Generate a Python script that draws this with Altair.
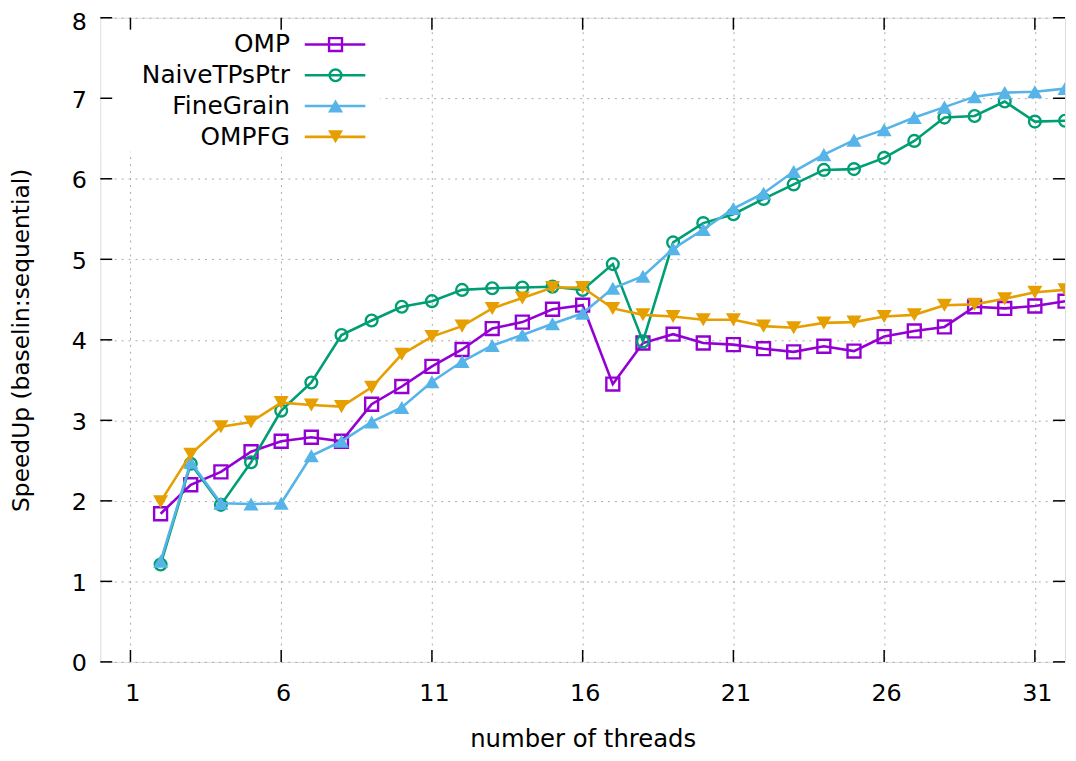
import altair as alt
import pandas as pd

threads = list(range(2, 33))
series_names = ["OMP", "NaiveTPsPtr", "FineGrain", "OMPFG"]
omp = [1.84, 2.20, 2.36, 2.61, 2.74, 2.79, 2.74, 3.20, 3.42, 3.67, 3.88, 4.14, 4.22, 4.38, 4.43,
       3.45, 3.96, 4.07, 3.96, 3.94, 3.89, 3.85, 3.92, 3.86, 4.04, 4.11, 4.16, 4.41, 4.39, 4.42, 4.48]
naive = [1.21, 2.46, 1.95, 2.48, 3.12, 3.47, 4.06, 4.24, 4.41, 4.48, 4.62, 4.64, 4.65, 4.66, 4.62,
         4.94, 3.98, 5.21, 5.45, 5.56, 5.75, 5.93, 6.11, 6.12, 6.26, 6.47, 6.76, 6.78, 6.96, 6.71, 6.72]
finegrain = [1.25, 2.48, 1.97, 1.96, 1.97, 2.56, 2.74, 2.98, 3.16, 3.48, 3.73, 3.93, 4.06, 4.20, 4.33,
             4.64, 4.79, 5.13, 5.37, 5.63, 5.82, 6.09, 6.30, 6.48, 6.61, 6.76, 6.89, 7.02, 7.07, 7.08, 7.12]
ompfg = [1.99, 2.58, 2.92, 2.98, 3.22, 3.19, 3.17, 3.41, 3.82, 4.04, 4.17, 4.39, 4.52, 4.65, 4.65,
         4.39, 4.31, 4.29, 4.25, 4.25, 4.17, 4.15, 4.21, 4.22, 4.29, 4.31, 4.43, 4.44, 4.51, 4.59, 4.62]
x_ticks = [1, 6, 11, 16, 21, 26, 31]
y_ticks = [0, 1, 2, 3, 4, 5, 6, 7, 8]

colors = ["#9400d3", "#009e73", "#56b4e9", "#e69f00"]
shapes = ["square", "circle", "triangle-up", "triangle-down"]
filled = [False, False, True, True]
sizes = [170, 140, 230, 230]

W, H = 972, 649
FONT = "DejaVu Sans"

rows = []
for name, vals in zip(series_names, [omp, naive, finegrain, ompfg]):
    for t, v in zip(threads, vals):
        rows.append({"threads": t, "speedup": v, "series": name})
df = pd.DataFrame(rows)

xscale = alt.Scale(domain=[0, 32], nice=False, zero=False)
yscale = alt.Scale(domain=[0, 8], nice=False)

x_axis = alt.Axis(values=x_ticks, format="d", grid=True, gridDash=[2, 5], gridColor="#aaaaaa",
                  gridWidth=1, ticks=False, domain=False, labelFontSize=24, labelFont=FONT,
                  labelColor="black", labelPadding=20, labelOffset=2, labelFlush=False,
                  title="number of threads", titleFontSize=24.5, titleFont=FONT,
                  titleFontWeight="normal", titleColor="black", titleY=78, titleBaseline="middle")
y_axis = alt.Axis(values=y_ticks, format="d", grid=True, gridDash=[2, 5], gridColor="#aaaaaa",
                  gridWidth=1, ticks=False, domain=False, labelFontSize=24, labelFont=FONT,
                  labelColor="black", labelPadding=14,
                  labelOffset={"condition": {"test": "datum.value == 8", "value": 5}, "value": 2},
                  labelFlush=False,
                  title="SpeedUp (baselin:sequential)", titleFontSize=23.5, titleFont=FONT,
                  titleFontWeight="normal", titleColor="black", titleX=-79, titleBaseline="middle")

axes_layer = alt.Chart(df).mark_point(opacity=0).encode(
    x=alt.X("threads:Q", scale=xscale, axis=x_axis),
    y=alt.Y("speedup:Q", scale=yscale, axis=y_axis),
)

box_df = pd.DataFrame({"a": [0]})
legend_box = alt.Chart(box_df).mark_rect(color="white").encode(
    x=alt.value(1.5), x2=alt.value(282), y=alt.value(1.5), y2=alt.value(135)
)

layers = [axes_layer, legend_box]

for name, c, sh, fl, sz in zip(series_names, colors, shapes, filled, sizes):
    sub = alt.Chart(df).transform_filter(alt.datum.series == name)
    enc = dict(x=alt.X("threads:Q", scale=xscale), y=alt.Y("speedup:Q", scale=yscale))
    layers.append(sub.mark_line(color=c, strokeWidth=2.6, clip=True).encode(**enc))
    layers.append(sub.mark_point(shape=sh, filled=fl, color=c, size=sz, strokeWidth=2.4,
                                 opacity=1, clip=True).encode(**enc))

xt = pd.DataFrame({"t": x_ticks})
yt = pd.DataFrame({"t": y_ticks})
TL = 12
layers.append(alt.Chart(xt).mark_rule(color="black", strokeWidth=1.5).encode(
    x=alt.X("t:Q", scale=xscale), y=alt.value(H), y2=alt.value(H - TL)))
layers.append(alt.Chart(xt).mark_rule(color="black", strokeWidth=1.5).encode(
    x=alt.X("t:Q", scale=xscale), y=alt.value(0), y2=alt.value(TL)))
layers.append(alt.Chart(yt).mark_rule(color="black", strokeWidth=1.5).encode(
    y=alt.Y("t:Q", scale=yscale), x=alt.value(0), x2=alt.value(TL)))
layers.append(alt.Chart(yt).mark_rule(color="black", strokeWidth=1.5).encode(
    y=alt.Y("t:Q", scale=yscale), x=alt.value(W), x2=alt.value(W - TL)))

leg_df = pd.DataFrame({"series": series_names})
for i, (name, c, sh, fl, sz) in enumerate(zip(series_names, colors, shapes, filled, sizes)):
    ly = 27 + 31 * i
    sub = alt.Chart(leg_df).transform_filter(alt.datum.series == name)
    layers.append(sub.mark_text(align="right", baseline="middle", fontSize=25, font=FONT,
                                color="black").encode(
        text="series:N", x=alt.value(191), y=alt.value(ly)))
    layers.append(sub.mark_rule(color=c, strokeWidth=2.6).encode(
        x=alt.value(206), x2=alt.value(267), y=alt.value(ly)))
    layers.append(sub.mark_point(shape=sh, filled=fl, color=c, size=sz, strokeWidth=2.4,
                                 opacity=1).encode(x=alt.value(237), y=alt.value(ly)))

chart = alt.layer(*layers).properties(
    width=W, height=H,
    autosize=alt.AutoSizeParams(type="none"),
    padding={"left": 93, "top": 7, "right": 3, "bottom": 90},
).configure_view(stroke="black", strokeWidth=1.5).configure(background="white")

chart.save("out.html", embed_options={"renderer": "svg", "actions": False})
